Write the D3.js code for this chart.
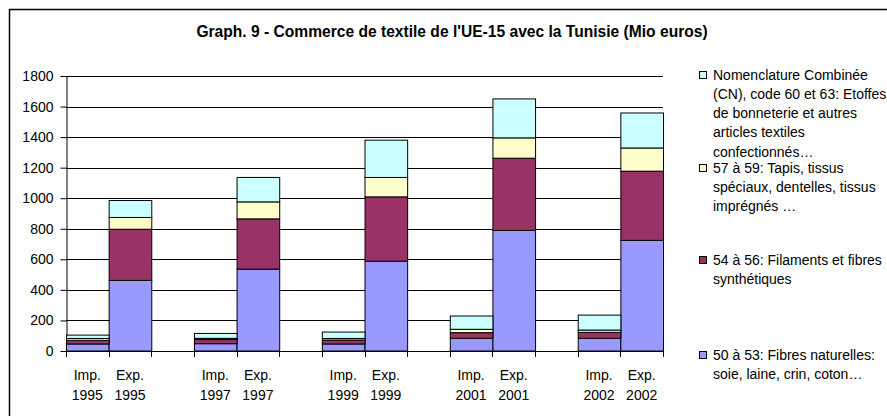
<!DOCTYPE html>
<html>
<head>
<meta charset="utf-8">
<script src="https://cdn.jsdelivr.net/npm/d3@7"></script>
<style>
  body { margin: 0; background: #fff; }
  svg { display: block; font-family: "Liberation Sans", Arial, sans-serif; }
</style>
</head>
<body>
<div id="chart"></div>
<script>
// catégories (Imp./Exp. par année), un créneau vide entre chaque année
const years = ["1995", "1997", "1999", "2001", "2002"];
const flows = ["Imp.", "Exp."];

// valeurs (Mio euros), dans l'ordre Imp. 1995, Exp. 1995, Imp. 1997 ...
const naturelles   = [46, 462, 48, 536, 46, 588, 83, 789, 83, 724];
const synthetiques = [24, 335, 27, 329, 26, 421, 37, 473, 39, 453];
const tapis        = [12, 77, 8, 111, 10, 127, 22, 133, 15, 152];
const bonneterie   = [22, 111, 32, 160, 42, 244, 87, 255, 98, 229];

const yTicks = [0, 200, 400, 600, 800, 1000, 1200, 1400, 1600, 1800];

const legendLabels = [
    ["Nomenclature Combinée", "(CN), code 60 et 63: Etoffes", "de bonneterie et autres", "articles textiles", "confectionnés…"],
    ["57 à 59: Tapis, tissus", "spéciaux, dentelles, tissus", "imprégnés …"],
    ["54 à 56: Filaments et fibres", "synthétiques"],
    ["50 à 53: Fibres naturelles:", "soie, laine, crin, coton…"]
];
const colors = ["#CCFFFF", "#FFFFCC", "#993366", "#9999FF"];

const width = 887, height = 416;
const plot = { left: 66, right: 663, top: 76, bottom: 351 };
const font = "Liberation Sans, Arial, sans-serif";

const svg = d3.select("#chart").append("svg")
    .attr("width", width)
    .attr("height", height);

svg.append("rect").attr("width", width).attr("height", height).attr("fill", "#fff");
// cadre
svg.append("rect")
    .attr("x", 9.5).attr("y", 9.5)
    .attr("width", width + 20).attr("height", height + 20)
    .attr("fill", "none").attr("stroke", "#000").attr("stroke-width", 1.5);

svg.append("text")
    .attr("x", 452).attr("y", 37)
    .attr("text-anchor", "middle")
    .attr("font-size", 15.6).attr("font-weight", "bold")
    .text("Graph. 9 - Commerce de textile de l'UE-15 avec la Tunisie (Mio euros)");

// créneaux : 2 barres + 1 vide par année, sans le dernier vide
const slots = [];
years.forEach((y, i) => {
    flows.forEach(f => slots.push({ key: f + y, flow: f, year: y }));
    if (i < years.length - 1) slots.push({ key: "gap" + y, gap: true });
});

const x = d3.scaleBand()
    .domain(slots.map(d => d.key))
    .range([plot.left, plot.right])
    .paddingInner(0).paddingOuter(0);

const y = d3.scaleLinear().domain([0, 1800]).range([plot.bottom, plot.top]);

// grille
svg.append("g")
    .selectAll("line")
    .data(yTicks.filter(d => d > 0))
    .join("line")
    .attr("x1", plot.left).attr("x2", plot.right)
    .attr("y1", d => Math.round(y(d)) + 0.5).attr("y2", d => Math.round(y(d)) + 0.5)
    .attr("stroke", "#000").attr("stroke-width", 1);

// axe y
const yAxis = svg.append("g")
    .attr("transform", `translate(${plot.left + 0.5},0)`)
    .call(d3.axisLeft(y).tickValues(yTicks).tickFormat(d3.format("d"))
        .tickSize(6).tickPadding(7).tickSizeOuter(0));
yAxis.select(".domain").attr("stroke", "#000");
yAxis.selectAll(".tick line").attr("stroke", "#000");
yAxis.selectAll(".tick text")
    .attr("font-size", 14).attr("font-family", font).attr("fill", "#000");

// barres empilées
const bars = slots.filter(d => !d.gap).map((d, i) => ({
    key: d.key,
    naturelles: naturelles[i],
    synthetiques: synthetiques[i],
    tapis: tapis[i],
    bonneterie: bonneterie[i]
}));
const keys = ["naturelles", "synthetiques", "tapis", "bonneterie"];
const fill = { naturelles: colors[3], synthetiques: colors[2], tapis: colors[1], bonneterie: colors[0] };
const stacked = d3.stack().keys(keys)(bars);

svg.append("g")
    .selectAll("g")
    .data(stacked)
    .join("g")
    .attr("fill", d => fill[d.key])
    .selectAll("rect")
    .data(d => d)
    .join("rect")
    .attr("x", d => x(d.data.key) + 0.5)
    .attr("width", x.bandwidth())
    .attr("y", d => y(d[1]))
    .attr("height", d => y(d[0]) - y(d[1]))
    .attr("stroke", "#000").attr("stroke-width", 1);

// axe x
const xg = svg.append("g");
xg.append("line")
    .attr("x1", plot.left).attr("x2", plot.right)
    .attr("y1", plot.bottom + 0.5).attr("y2", plot.bottom + 0.5)
    .attr("stroke", "#000");
const bounds = slots.map(d => x(d.key)).concat([plot.right]);
xg.selectAll(".tk")
    .data(bounds)
    .join("line")
    .attr("class", "tk")
    .attr("x1", d => Math.round(d) + 0.5).attr("x2", d => Math.round(d) + 0.5)
    .attr("y1", plot.bottom).attr("y2", plot.bottom + 6)
    .attr("stroke", "#000");
const lbl = xg.selectAll(".lbl")
    .data(slots.filter(d => !d.gap))
    .join("text")
    .attr("class", "lbl")
    .attr("text-anchor", "middle")
    .attr("font-size", 14);
lbl.append("tspan")
    .attr("x", d => x(d.key) + x.bandwidth() / 2).attr("y", 380)
    .text(d => d.flow);
lbl.append("tspan")
    .attr("x", d => x(d.key) + x.bandwidth() / 2).attr("y", 400)
    .text(d => d.year);

// légende
const legendY = [75, 168, 260, 355];
const lh = 19.3;
const lg = svg.append("g").selectAll("g")
    .data(legendLabels)
    .join("g")
    .attr("transform", (d, i) => `translate(699,${legendY[i]})`);
lg.append("rect")
    .attr("x", 0.5).attr("y", -3.5)
    .attr("width", 7).attr("height", 7)
    .attr("fill", (d, i) => colors[i]).attr("stroke", "#000");
lg.append("text")
    .attr("font-size", 14)
    .selectAll("tspan")
    .data(d => d)
    .join("tspan")
    .attr("x", 14)
    .attr("y", (d, i) => i * lh + 4.5)
    .text(d => d);
</script>
</body>
</html>
